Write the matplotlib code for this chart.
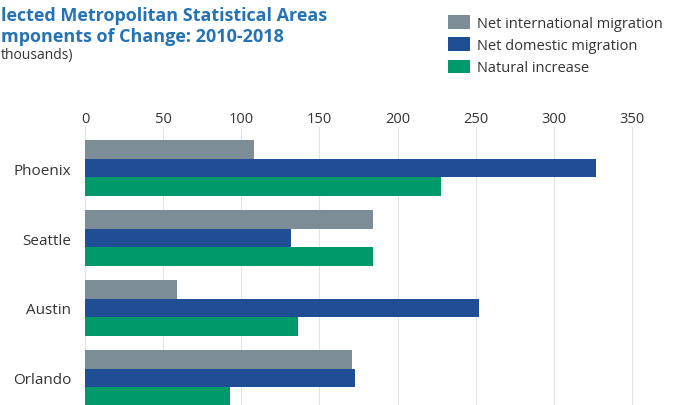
import matplotlib.pyplot as plt
from matplotlib.patches import Patch
import numpy as np

cities = ["Phoenix", "Seattle", "Austin", "Orlando"]
intl = [108, 184, 59, 171]
domestic = [327, 132, 252, 173]
natural = [228, 184, 136, 93]
series_names = ["Net international migration", "Net domestic migration", "Natural increase"]
colors = ["#7C8D98", "#1F4E94", "#00996A"]
ticks = [0, 50, 100, 150, 200, 250, 300, 350]

# the reference image is cropped: only these parts of the title block are visible
title_lines = ["lected Metropolitan Statistical Areas", "mponents of Change: 2010-2018"]
unit_text = "thousands)"

plt.rcParams['font.family'] = ['Open Sans', 'DejaVu Sans']

W, H = 674, 406
fig = plt.figure(figsize=(W / 100, H / 100), dpi=100)
fig.patch.set_facecolor('white')

# axes: data 0 at x=85px, 350 at x=632px; top at y=128px
x0, x1 = 85, 632
xmax = 350 * (W - 10 - x0) / (x1 - x0)
ax = fig.add_axes([x0 / W, 0, (W - 10 - x0) / W, (H - 128) / H])
ax.set_xlim(0, xmax)
ax.set_ylim(3.386, -0.586)

y = np.arange(len(cities))
h = 0.267
ax.barh(y - h, intl, height=h, color=colors[0], zorder=2)
ax.barh(y, domestic, height=h, color=colors[1], zorder=2)
ax.barh(y + h, natural, height=h, color=colors[2], zorder=2)

ax.set_yticks(y)
ax.set_yticklabels(cities, fontsize=11, color="#333333")
ax.xaxis.tick_top()
ax.set_xticks(ticks)
ax.set_xticklabels([str(t) for t in ticks], fontsize=10.5, color="#333333")
ax.tick_params(axis='x', length=0, pad=1)
ax.tick_params(axis='y', length=0, pad=10)
ax.grid(axis='x', color="#E3E3E3", linewidth=0.8, zorder=0)
for s in ax.spines.values():
    s.set_visible(False)

fig.text(1 / W, 1 - 16 / H, title_lines[0],
         fontsize=13, fontweight='bold', color="#2673B3", va='center')
fig.text(1 / W, 1 - 37 / H, title_lines[1],
         fontsize=13, fontweight='bold', color="#2673B3", va='center')
fig.text(1 / W, 1 - 56 / H, unit_text,
         fontsize=10, color="#333333", va='center')

handles = [Patch(facecolor=c, edgecolor='none') for c in colors]
fig.legend(handles, series_names, loc='upper left', bbox_to_anchor=(435 / W, 1 - 3 / H),
           frameon=False, fontsize=10.5, handlelength=1.5, handleheight=1.05,
           handletextpad=0.45, labelspacing=0.45, labelcolor="#333333")

fig.savefig("out.png", dpi=100)
